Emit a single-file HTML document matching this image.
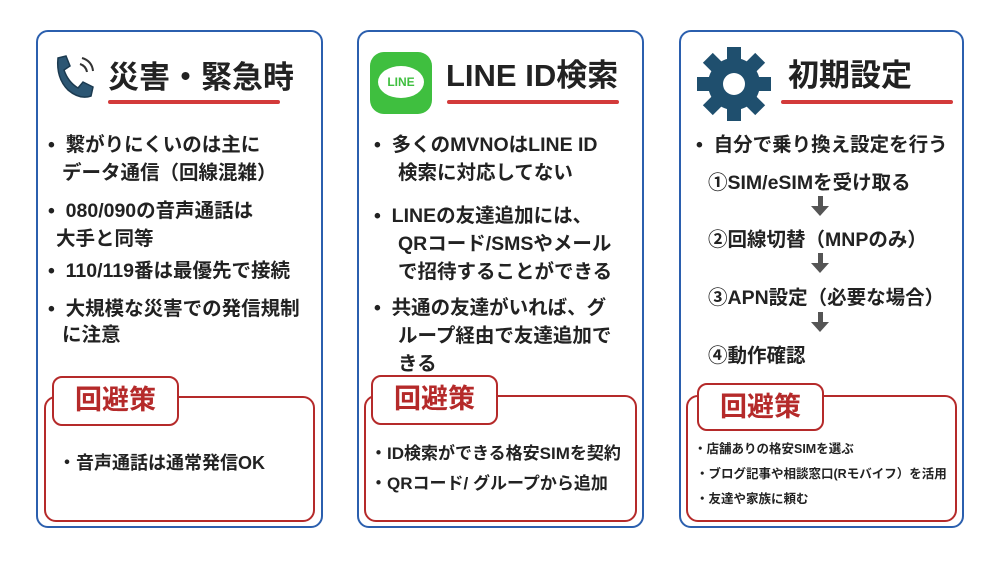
<!DOCTYPE html><html><head><meta charset="utf-8"><style>
body{margin:0;width:1000px;height:563px;background:#fff;position:relative;overflow:hidden;font-family:"Liberation Sans","Noto Sans CJK JP",sans-serif;font-weight:bold;color:#222}
.p{position:absolute;top:30px;height:498px;border:2.5px solid #2b5fae;border-radius:12px;box-sizing:border-box}
.t{position:absolute;font-size:31px;white-space:nowrap}
.u{position:absolute;height:4px;background:#d33a3a;border-radius:2px}
.x{position:absolute;font-size:19.5px;line-height:24px;white-space:nowrap}
.b{position:absolute;border:2.5px solid #b52a2a;border-radius:12px;box-sizing:border-box;background:#fff}
.tab{position:absolute;border:2.5px solid #b52a2a;border-radius:10px;box-sizing:border-box;background:#fff;color:#b52a2a;font-size:27px;text-align:center;line-height:44px}
.s{position:absolute;font-size:17px;white-space:nowrap}
.ar{position:absolute;width:0;height:0;border-left:9px solid transparent;border-right:9px solid transparent;border-top:10px solid #555}
.st{position:absolute;width:5px;height:10px;background:#555}
</style></head><body>
<div class="p" style="left:36px;width:287px"></div>
<div class="p" style="left:357px;width:287px"></div>
<div class="p" style="left:679px;width:285px"></div>

<svg style="position:absolute;left:50px;top:52px" width="50" height="50" viewBox="0 0 50 50"><path d="M8 6 L16 4 L20 14 L14 18 Q18 30 28 36 L33 30 L43 35 L41 44 Q30 48 18 38 Q6 26 8 6Z" fill="#2c5673" stroke="#1b3a50" stroke-width="1.5"/><path d="M30 12 Q36 14 37 20" stroke="#333" stroke-width="2" fill="none"/><path d="M32 6 Q42 9 43 19" stroke="#333" stroke-width="2" fill="none"/></svg>
<div class="t" style="left:108px;top:52px">災害・緊急時</div>
<div class="u" style="left:108px;top:100px;width:172px"></div>
<div class="x" style="left:48px;top:133px">•&nbsp; 繋がりにくいのは主に</div>
<div class="x" style="left:62px;top:161px">データ通信（回線混雑）</div>
<div class="x" style="left:48px;top:199px">•&nbsp; 080/090の音声通話は</div>
<div class="x" style="left:56px;top:227px">大手と同等</div>
<div class="x" style="left:48px;top:259px">•&nbsp; 110/119番は最優先で接続</div>
<div class="x" style="left:48px;top:297px">•&nbsp; 大規模な災害での発信規制</div>
<div class="x" style="left:62px;top:323px">に注意</div>
<div class="b" style="left:44px;top:396px;width:271px;height:126px"></div>
<div class="tab" style="left:52px;top:376px;width:127px;height:50px">回避策</div>
<div class="s" style="left:58px;top:449px;font-size:18px">・音声通話は通常発信OK</div>

<div style="position:absolute;left:370px;top:52px;width:62px;height:62px;background:#3fbf3f;border-radius:14px"></div>
<div style="position:absolute;left:378px;top:66px;width:46px;height:32px;background:#fff;border-radius:50%;color:#3fbf3f;font-size:12px;text-align:center;line-height:32px">LINE</div>
<div class="t" style="left:446px;top:50px">LINE ID検索</div>
<div class="u" style="left:447px;top:100px;width:172px"></div>
<div class="x" style="left:374px;top:133px">•&nbsp; 多くのMVNOはLINE ID</div>
<div class="x" style="left:398px;top:161px">検索に対応してない</div>
<div class="x" style="left:374px;top:204px">•&nbsp; LINEの友達追加には、</div>
<div class="x" style="left:398px;top:232px">QRコード/SMSやメール</div>
<div class="x" style="left:398px;top:260px">で招待することができる</div>
<div class="x" style="left:374px;top:296px">•&nbsp; 共通の友達がいれば、グ</div>
<div class="x" style="left:398px;top:324px">ループ経由で友達追加で</div>
<div class="x" style="left:398px;top:352px">きる</div>
<div class="b" style="left:364px;top:395px;width:273px;height:127px"></div>
<div class="tab" style="left:371px;top:375px;width:127px;height:50px">回避策</div>
<div class="s" style="left:370px;top:439px">・ID検索ができる格安SIMを契約</div>
<div class="s" style="left:370px;top:469px">・QRコード/ グループから追加</div>

<svg style="position:absolute;left:696px;top:46px" width="76" height="76" viewBox="-38 -38 76 76"><g fill="#1f4f6e"><circle r="26"/><g id="g"><rect x="-7" y="-37" width="14" height="14"/></g><use href="#g" transform="rotate(45)"/><use href="#g" transform="rotate(90)"/><use href="#g" transform="rotate(135)"/><use href="#g" transform="rotate(180)"/><use href="#g" transform="rotate(225)"/><use href="#g" transform="rotate(270)"/><use href="#g" transform="rotate(315)"/></g><circle r="11" fill="#fff"/></svg>
<div class="t" style="left:788px;top:50px">初期設定</div>
<div class="u" style="left:781px;top:100px;width:172px"></div>
<div class="x" style="left:696px;top:133px">•&nbsp; 自分で乗り換え設定を行う</div>
<div class="x" style="left:708px;top:171px">①SIM/eSIMを受け取る</div>
<div class="st" style="left:818px;top:196px"></div><div class="ar" style="left:811px;top:206px"></div>
<div class="x" style="left:708px;top:228px">②回線切替（MNPのみ）</div>
<div class="st" style="left:818px;top:253px"></div><div class="ar" style="left:811px;top:263px"></div>
<div class="x" style="left:708px;top:286px">③APN設定（必要な場合）</div>
<div class="st" style="left:818px;top:312px"></div><div class="ar" style="left:811px;top:322px"></div>
<div class="x" style="left:708px;top:344px">④動作確認</div>
<div class="b" style="left:686px;top:395px;width:271px;height:127px"></div>
<div class="tab" style="left:697px;top:383px;width:127px;height:48px">回避策</div>
<div class="s" style="left:694px;top:438px;font-size:12.5px">・店舗ありの格安SIMを選ぶ</div>
<div class="s" style="left:696px;top:463px;font-size:12.5px">・ブログ記事や相談窓口(Rモバイフ）を活用</div>
<div class="s" style="left:696px;top:488px;font-size:12.5px">・友達や家族に頼む</div>
</body></html>
